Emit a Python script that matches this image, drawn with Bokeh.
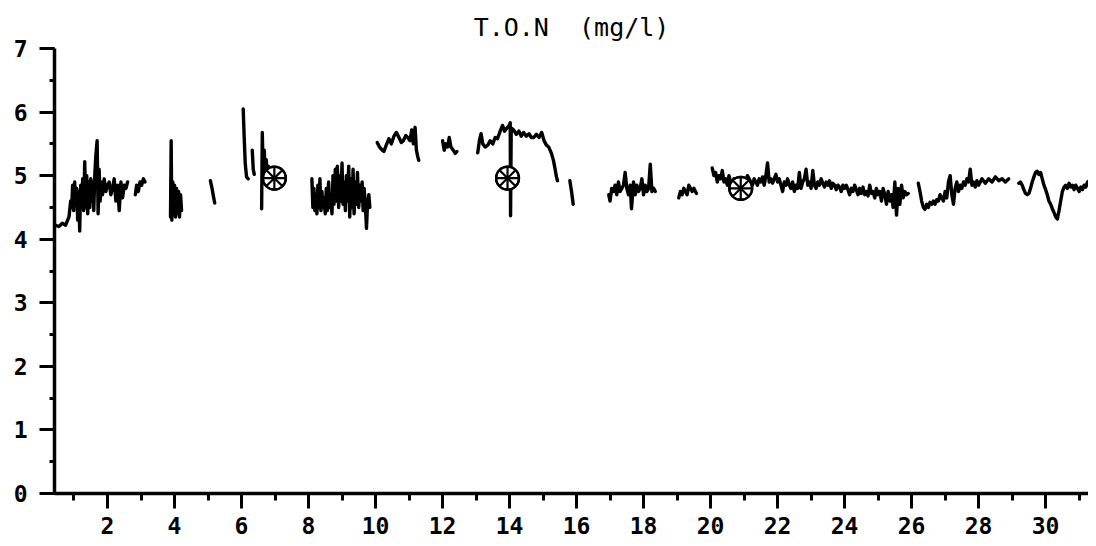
from bokeh.plotting import figure
from bokeh.models import SingleIntervalTicker
from bokeh.embed import file_html
from bokeh.resources import INLINE

title_text = "T.O.N\u00a0\u00a0(mg/l)"

# --- trace segments (day, T.O.N mg/l) ---
a_days = [0.45, 0.55, 0.65, 0.75, 0.85, 0.9, 0.93, 0.96, 0.99, 1.02, 1.05, 1.08, 1.11, 1.14, 1.17, 1.2,
          1.23, 1.26, 1.29, 1.32, 1.35, 1.38, 1.41, 1.44, 1.47, 1.5, 1.53, 1.56, 1.59, 1.62, 1.65, 1.69,
          1.72, 1.75, 1.78, 1.81, 1.85, 1.9, 1.95, 2.0, 2.05, 2.1, 2.15, 2.2, 2.25, 2.3, 2.35, 2.4,
          2.45, 2.5, 2.55, 2.6]
a_vals = [4.22, 4.2, 4.25, 4.22, 4.35, 4.6, 4.5, 4.85, 4.45, 4.9, 4.55, 4.8, 4.3, 4.75, 4.13, 4.85,
          4.5, 4.95, 4.45, 5.22, 4.5, 5.0, 4.4, 4.9, 4.5, 4.95, 4.6, 4.9, 4.45, 5.0, 5.3, 5.55,
          4.4, 5.1, 4.6, 4.9, 4.7, 4.95, 4.75, 4.85, 4.9, 4.7, 4.8, 4.95, 4.6, 4.85, 4.45, 4.9,
          4.65, 4.85, 4.8, 4.9]

a2_days = [2.83, 2.87, 2.92, 2.97, 3.02, 3.07, 3.12]
a2_vals = [4.7, 4.85, 4.75, 4.9, 4.85, 4.95, 4.9]

b_days = [3.88, 3.9, 3.92, 3.95, 3.98, 4.0, 4.03, 4.06, 4.09, 4.12, 4.15, 4.18, 4.21]
b_vals = [4.35, 5.55, 4.3, 4.9, 4.4, 4.85, 4.35, 4.8, 4.4, 4.75, 4.35, 4.7, 4.45]

c_days = [5.07, 5.12, 5.17, 5.2]
c_vals = [4.92, 4.8, 4.65, 4.57]

d1_days = [6.05, 6.08, 6.11, 6.15, 6.2]
d1_vals = [6.05, 5.6, 5.2, 4.98, 4.95]

d2_days = [6.32, 6.35, 6.38]
d2_vals = [5.4, 5.1, 5.02]

d3_days = [6.6, 6.62, 6.65, 6.68, 6.71, 6.74, 6.77, 6.8, 6.84, 6.88, 6.92]
d3_vals = [4.48, 5.68, 5.0, 5.4, 4.95, 5.25, 4.95, 5.15, 5.0, 5.05, 4.97]

e_days = [8.1, 8.13, 8.16, 8.19, 8.22, 8.25, 8.28, 8.31, 8.34, 8.37, 8.4, 8.43, 8.46, 8.5, 8.53, 8.56,
          8.6, 8.63, 8.66, 8.7, 8.73, 8.76, 8.8, 8.83, 8.86, 8.9, 8.93, 8.96, 9.0, 9.03, 9.06, 9.1,
          9.13, 9.16, 9.2, 9.23, 9.26, 9.3, 9.33, 9.36, 9.4, 9.43, 9.46, 9.5, 9.53, 9.56, 9.6, 9.63,
          9.66, 9.7, 9.73, 9.76, 9.8, 9.83]
e_vals = [4.95, 4.5, 4.8, 4.45, 4.7, 4.4, 4.85, 4.5, 4.95, 4.45, 4.75, 4.5, 4.65, 4.4, 4.8, 4.45,
          4.9, 4.5, 4.7, 4.4, 5.0, 4.55, 5.1, 4.6, 5.15, 4.5, 5.0, 4.6, 5.2, 4.55, 4.9, 4.45,
          5.0, 4.6, 5.15, 4.35, 4.95, 4.5, 5.1, 4.4, 4.9, 4.55, 5.05, 4.5, 4.85, 4.6, 4.9, 4.45,
          4.8, 4.5, 4.17, 4.55, 4.7, 4.5]

f_days = [10.05, 10.12, 10.2, 10.25, 10.32, 10.4, 10.47, 10.55, 10.62, 10.7, 10.77, 10.83, 10.9,
          10.96, 11.03, 11.08, 11.13, 11.18, 11.22, 11.26, 11.29]
f_vals = [5.52, 5.45, 5.4, 5.38, 5.48, 5.58, 5.5, 5.62, 5.68, 5.6, 5.52, 5.55, 5.63,
          5.6, 5.55, 5.72, 5.5, 5.76, 5.4, 5.3, 5.24]

g_days = [12.0, 12.05, 12.1, 12.15, 12.2, 12.25, 12.32, 12.38, 12.43]
g_vals = [5.55, 5.4, 5.5, 5.45, 5.6, 5.45, 5.4, 5.35, 5.38]

h_days = [13.05, 13.1, 13.15, 13.2, 13.27, 13.35, 13.42, 13.5, 13.57, 13.64, 13.72, 13.79, 13.85,
          13.92, 13.98, 14.02, 14.03, 14.05, 14.12, 14.2, 14.28, 14.35, 14.42, 14.5, 14.58, 14.65,
          14.72, 14.8, 14.88, 14.96, 15.03, 15.1, 15.17, 15.25, 15.31, 15.36, 15.4, 15.43]
h_vals = [5.36, 5.55, 5.66, 5.5, 5.45, 5.48, 5.55, 5.5, 5.6, 5.58, 5.7, 5.79, 5.7,
          5.75, 5.78, 5.83, 4.37, 5.75, 5.72, 5.65, 5.7, 5.62, 5.68, 5.62, 5.66, 5.6,
          5.6, 5.65, 5.6, 5.68, 5.55, 5.48, 5.45, 5.35, 5.24, 5.1, 4.98, 4.92]

i_days = [15.8, 15.85, 15.9]
i_vals = [4.92, 4.75, 4.55]

j_days = [16.96, 17.0, 17.05, 17.1, 17.15, 17.2, 17.25, 17.3, 17.35, 17.4, 17.45, 17.5, 17.55,
          17.6, 17.64, 17.7, 17.75, 17.8, 17.85, 17.9, 17.95, 18.0, 18.05, 18.1, 18.15, 18.2,
          18.25, 18.3, 18.35]
j_vals = [4.7, 4.6, 4.8, 4.75, 4.85, 4.7, 4.9, 4.75, 4.8, 4.85, 5.05, 4.8, 4.7,
          4.85, 4.48, 4.9, 4.7, 4.85, 4.75, 4.8, 4.95, 4.7, 4.85, 4.75, 4.8, 5.18,
          4.75, 4.8, 4.75]

k_days = [19.05, 19.1, 19.15, 19.2, 19.3, 19.35, 19.45, 19.5, 19.58]
k_vals = [4.65, 4.75, 4.7, 4.8, 4.7, 4.85, 4.75, 4.8, 4.72]

l_days = [20.05, 20.1, 20.15, 20.2, 20.25, 20.3, 20.35, 20.4, 20.45, 20.5, 20.55, 20.6, 20.65,
          20.7, 20.75, 20.8, 20.85, 20.9, 20.95, 21.0, 21.05, 21.1, 21.15, 21.2, 21.25, 21.3,
          21.35, 21.4, 21.45, 21.5, 21.55, 21.6, 21.65, 21.7, 21.75, 21.8, 21.85, 21.9, 21.95,
          22.0, 22.05, 22.1, 22.15, 22.2, 22.25, 22.3, 22.35, 22.4, 22.45, 22.5, 22.55, 22.6,
          22.65, 22.7, 22.75, 22.8, 22.85, 22.9, 22.95, 23.0, 23.05, 23.1, 23.15, 23.2, 23.25,
          23.3, 23.35, 23.4, 23.45, 23.5, 23.55, 23.6, 23.65, 23.7, 23.75, 23.8, 23.85, 23.9,
          23.95, 24.0, 24.05, 24.1, 24.15, 24.2, 24.25, 24.3, 24.35, 24.4, 24.45, 24.5, 24.55,
          24.6, 24.65, 24.7, 24.75, 24.8, 24.85, 24.9, 24.95, 25.0, 25.05, 25.1, 25.15, 25.2,
          25.25, 25.3, 25.35, 25.4, 25.45, 25.5, 25.55, 25.6, 25.65, 25.7, 25.75, 25.8, 25.85,
          25.9]
l_vals = [5.12, 5.0, 5.05, 4.9, 5.0, 4.95, 5.08, 4.9, 4.95, 4.85, 5.0, 4.9, 4.82,
          4.95, 4.85, 4.78, 4.8, 4.75, 4.82, 4.9, 4.85, 5.0, 4.95, 4.9, 4.85, 4.95,
          4.9, 4.85, 4.95, 4.9, 4.98, 4.85, 5.0, 5.2, 4.9, 4.95, 4.88, 4.95, 5.02,
          4.9, 4.95, 4.85, 4.75, 4.9, 4.85, 4.95, 4.85, 4.8, 4.9, 4.75, 4.85, 4.8,
          5.05, 4.8, 4.9, 4.95, 5.1, 4.85, 4.9, 4.8, 5.08, 4.85, 4.8, 4.9, 4.85,
          4.95, 4.88, 4.82, 4.9, 4.85, 4.92, 4.8, 4.88, 4.85, 4.78, 4.85, 4.82, 4.75,
          4.85, 4.8, 4.85, 4.78, 4.7, 4.8, 4.75, 4.85, 4.78, 4.7, 4.8, 4.72, 4.82,
          4.7, 4.75, 4.68, 4.85, 4.72, 4.75, 4.65, 4.8, 4.7, 4.75, 4.6, 4.8, 4.7,
          4.55, 4.75, 4.6, 4.7, 4.5, 4.9, 4.38, 4.8, 4.55, 4.85, 4.65, 4.75, 4.7,
          4.72]

m_days = [26.2, 26.25, 26.3, 26.35, 26.4, 26.45, 26.5, 26.55, 26.6, 26.65, 26.7, 26.75, 26.8,
          26.85, 26.9, 26.95, 27.0, 27.05, 27.1, 27.15, 27.2, 27.25, 27.3, 27.35, 27.4, 27.45,
          27.5, 27.55, 27.6, 27.65, 27.7, 27.75, 27.8, 27.85, 27.9, 27.95, 28.0, 28.1, 28.2,
          28.3, 28.4, 28.5, 28.6, 28.7, 28.8, 28.9]
m_vals = [4.88, 4.75, 4.6, 4.5, 4.47, 4.55, 4.5, 4.58, 4.55, 4.6, 4.55, 4.62, 4.6,
          4.7, 4.65, 4.6, 4.75, 4.65, 4.9, 5.0, 4.7, 4.55, 4.8, 4.9, 4.75, 4.85,
          4.8, 4.9, 4.85, 4.95, 4.9, 5.1, 4.85, 4.9, 4.82, 4.92, 4.85, 4.95, 4.88,
          4.95, 4.9, 4.98, 4.92, 4.95, 4.9, 4.95]

n_days = [29.2, 29.25, 29.3, 29.35, 29.4, 29.45, 29.5, 29.55, 29.6, 29.65, 29.7, 29.75, 29.8,
          29.85, 29.9, 29.95, 30.0, 30.05, 30.1, 30.15, 30.2, 30.25, 30.3, 30.35, 30.4, 30.45,
          30.5, 30.55, 30.6, 30.65, 30.7, 30.75, 30.8, 30.85, 30.9, 30.95, 31.0, 31.05, 31.1,
          31.15, 31.2, 31.25, 31.3]
n_vals = [4.88, 4.9, 4.85, 4.78, 4.72, 4.7, 4.72, 4.8, 4.9, 4.98, 5.05, 5.07, 5.02,
          5.05, 4.95, 4.85, 4.78, 4.7, 4.6, 4.55, 4.48, 4.42, 4.35, 4.32, 4.45, 4.6,
          4.75, 4.82, 4.85, 4.8, 4.88, 4.82, 4.85, 4.78, 4.85, 4.8, 4.75, 4.82, 4.78,
          4.85, 4.82, 4.9, 4.92]

# weekly marked samples
mark_days = [6.98, 13.94, 20.9]
mark_vals = [4.96, 4.96, 4.8]

x_tick_labels = [str(v) for v in range(2, 31, 2)]
y_tick_labels = [str(v) for v in range(0, 8)]

seg_days = [a_days, a2_days, b_days, c_days, d1_days, d2_days, d3_days, e_days, f_days, g_days,
            h_days, i_days, j_days, k_days, l_days, m_days, n_days]
seg_vals = [a_vals, a2_vals, b_vals, c_vals, d1_vals, d2_vals, d3_vals, e_vals, f_vals, g_vals,
            h_vals, i_vals, j_vals, k_vals, l_vals, m_vals, n_vals]

p = figure(frame_width=1034, frame_height=445, x_range=(0.418, 31.28), y_range=(0, 7),
           output_backend="svg", toolbar_location=None,
           min_border_left=54, min_border_right=0, min_border_top=48, min_border_bottom=50)
p.outline_line_color = None
p.xgrid.visible = False
p.ygrid.visible = False
p.background_fill_color = "white"
p.border_fill_color = "white"

p.title.text = title_text
p.title.align = "center"
p.title.text_font = "DejaVu Sans Mono"
p.title.text_font_style = "normal"
p.title.text_font_size = "25px"
p.title.text_color = "black"
p.title.standoff = 14

p.multi_line(seg_days, seg_vals, line_color="black", line_width=3.4, line_join="round", line_cap="round")

p.scatter(mark_days, mark_vals, marker="circle_x", size=23, line_color="black", line_width=2.2,
          fill_color="white")
p.scatter(mark_days, mark_vals, marker="circle_cross", size=23, line_color="black", line_width=2.2,
          fill_color=None)

xt = SingleIntervalTicker(interval=2, num_minor_ticks=2)
yt = SingleIntervalTicker(interval=1, num_minor_ticks=2)
p.xaxis.ticker = xt
p.yaxis.ticker = yt
p.xaxis.major_label_overrides = {v: s for v, s in zip(range(2, 31, 2), x_tick_labels)}
p.yaxis.major_label_overrides = {v: s for v, s in zip(range(0, 8), y_tick_labels)}

for ax in (p.xaxis[0], p.yaxis[0]):
    ax.axis_line_width = 3.5
    ax.axis_line_color = "black"
    ax.major_tick_line_width = 3
    ax.minor_tick_line_width = 3
    ax.major_tick_line_color = "black"
    ax.minor_tick_line_color = "black"
    ax.major_tick_in = 0
    ax.minor_tick_in = 0
    ax.major_tick_out = 15
    ax.major_label_text_font = "DejaVu Sans Mono"
    ax.major_label_text_font_style = "bold"
    ax.major_label_text_font_size = "23px"
    ax.major_label_text_color = "black"

p.xaxis.minor_tick_out = 7
p.yaxis.minor_tick_out = 5
p.xaxis.major_label_standoff = 8
p.yaxis.major_label_standoff = 12

open("out.html", "w").write(file_html(p, INLINE))
